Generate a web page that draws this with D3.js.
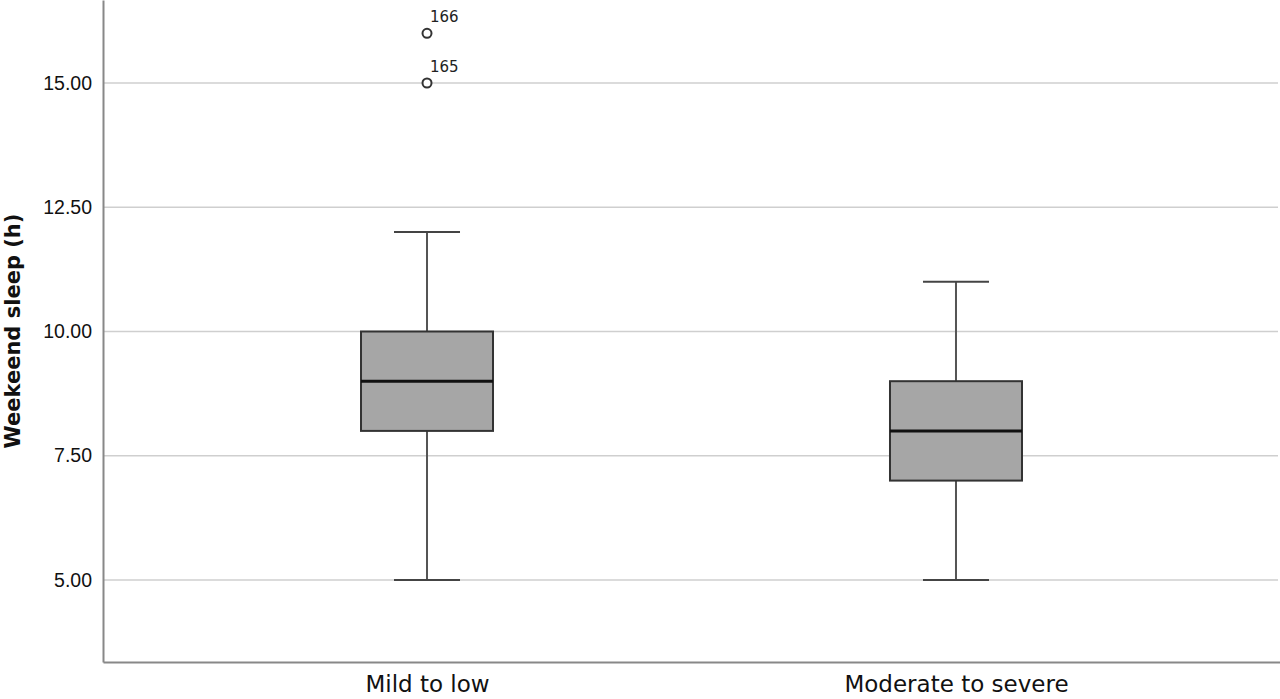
<!DOCTYPE html>
<html>
<head>
<meta charset="utf-8">
<script src="https://cdn.jsdelivr.net/npm/d3@7"></script>
<style>
  body { margin: 0; background: #fff; }
</style>
</head>
<body>
<script>
var categories = ["Mild to low", "Moderate to severe"];
var mins = [5, 5];
var q1s = [8, 7];
var medians = [9, 8];
var q3s = [10, 9];
var maxs = [12, 11];
var outlierValues = [[15, 16], []];
var outlierLabels = [["165", "166"], []];
var yTicks = [5, 7.5, 10, 12.5, 15];

var width = 1280;
var height = 699;
var plotLeft = 103, plotRight = 1280, plotTop = 0, plotBottom = 662;

var svg = d3.select("body").append("svg")
            .attr("width", width)
            .attr("height", height);

var yScale = d3.scaleLinear()
               .domain([3.35, 16.67])
               .range([plotBottom, plotTop]);
var xScale = d3.scalePoint()
               .domain(categories)
               .range([plotLeft, plotRight])
               .padding(0.6125);

var boxWidth = 132;

// grid lines
svg.selectAll("line.grid")
   .data(yTicks)
   .enter()
   .append("line")
   .attr("class", "grid")
   .attr("x1", plotLeft)
   .attr("x2", plotRight - 2)
   .attr("y1", function(d) { return yScale(d); })
   .attr("y2", function(d) { return yScale(d); })
   .attr("stroke", "#cfcfcf")
   .attr("stroke-width", 1.5);

// y axis
var yAxis = d3.axisLeft(yScale)
              .tickValues(yTicks)
              .tickSize(0)
              .tickPadding(11)
              .tickFormat(d3.format(".2f"));
var gy = svg.append("g")
            .attr("transform", "translate(" + plotLeft + ",0)")
            .call(yAxis);
gy.select(".domain").attr("stroke", "#888").attr("stroke-width", 2);
gy.selectAll("text")
  .attr("font-family", "Liberation Sans, Arial, sans-serif")
  .attr("font-size", "19.5px")
  .attr("fill", "#111");

// x axis
var xAxis = d3.axisBottom(xScale).tickSize(0).tickPadding(14);
var gx = svg.append("g")
            .attr("transform", "translate(0," + plotBottom + ")")
            .call(xAxis);
gx.select(".domain").attr("stroke", "#888").attr("stroke-width", 2);
gx.selectAll("text")
  .attr("font-family", "DejaVu Sans, Verdana, sans-serif")
  .attr("font-size", "23px")
  .attr("fill", "#111");

// y title
svg.append("text")
   .attr("transform", "translate(20," + ((plotTop + plotBottom) / 2) + ") rotate(-90)")
   .attr("text-anchor", "middle")
   .attr("font-family", "DejaVu Sans, Verdana, sans-serif")
   .attr("font-weight", "bold")
   .attr("font-size", "21px")
   .attr("fill", "#111")
   .text("Weekeend sleep (h)");

// boxes
var groups = svg.selectAll("g.box")
   .data(categories)
   .enter()
   .append("g")
   .attr("class", "box");

// whiskers
groups.append("line")
   .attr("x1", function(d) { return xScale(d); })
   .attr("x2", function(d) { return xScale(d); })
   .attr("y1", function(d, i) { return yScale(maxs[i]); })
   .attr("y2", function(d, i) { return yScale(mins[i]); })
   .attr("stroke", "#555")
   .attr("stroke-width", 2);

groups.selectAll("line.cap")
   .data(function(d, i) { return [{c: d, v: maxs[i]}, {c: d, v: mins[i]}]; })
   .enter()
   .append("line")
   .attr("class", "cap")
   .attr("x1", function(d) { return xScale(d.c) - boxWidth / 4; })
   .attr("x2", function(d) { return xScale(d.c) + boxWidth / 4; })
   .attr("y1", function(d) { return yScale(d.v); })
   .attr("y2", function(d) { return yScale(d.v); })
   .attr("stroke", "#444")
   .attr("stroke-width", 2);

groups.append("rect")
   .attr("x", function(d) { return xScale(d) - boxWidth / 2; })
   .attr("y", function(d, i) { return yScale(q3s[i]); })
   .attr("width", boxWidth)
   .attr("height", function(d, i) { return yScale(q1s[i]) - yScale(q3s[i]); })
   .attr("fill", "#a6a6a6")
   .attr("stroke", "#333")
   .attr("stroke-width", 2);

groups.append("line")
   .attr("x1", function(d) { return xScale(d) - boxWidth / 2; })
   .attr("x2", function(d) { return xScale(d) + boxWidth / 2; })
   .attr("y1", function(d, i) { return yScale(medians[i]); })
   .attr("y2", function(d, i) { return yScale(medians[i]); })
   .attr("stroke", "#111")
   .attr("stroke-width", 3);

// outliers
var outliers = [];
categories.forEach(function(c, i) {
    outlierValues[i].forEach(function(v, j) {
        outliers.push({c: c, v: v, label: outlierLabels[i][j]});
    });
});

svg.selectAll("circle.out")
   .data(outliers)
   .enter()
   .append("circle")
   .attr("class", "out")
   .attr("cx", function(d) { return xScale(d.c); })
   .attr("cy", function(d) { return yScale(d.v); })
   .attr("r", 4.5)
   .attr("fill", "#fff")
   .attr("stroke", "#333")
   .attr("stroke-width", 2);

svg.selectAll("text.outlab")
   .data(outliers)
   .enter()
   .append("text")
   .attr("class", "outlab")
   .attr("x", function(d) { return xScale(d.c) + 3; })
   .attr("y", function(d) { return yScale(d.v) - 11; })
   .attr("font-family", "DejaVu Sans, Verdana, sans-serif")
   .attr("font-size", "15px")
   .attr("fill", "#222")
   .text(function(d) { return d.label; });
</script>
</body>
</html>
